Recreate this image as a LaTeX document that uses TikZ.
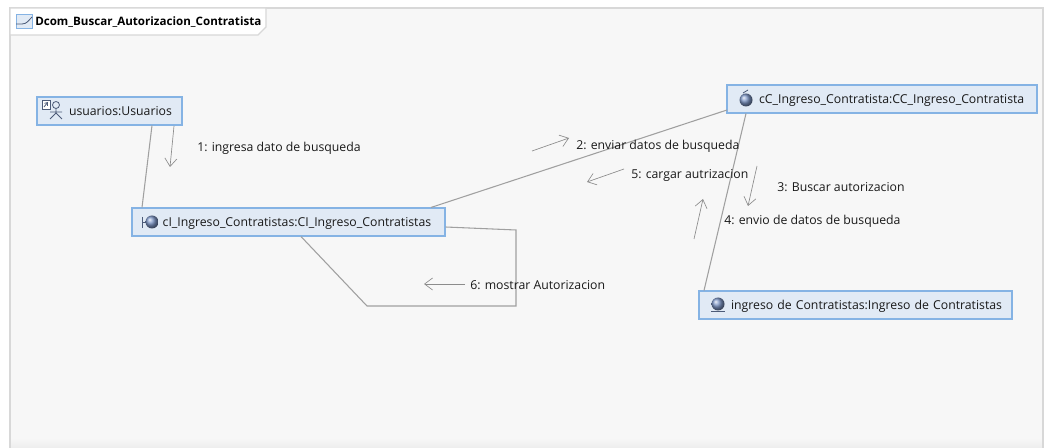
\documentclass[tikz,border=0pt]{standalone}
\usepackage{fontspec}
\setmainfont{Open Sans}
\usepackage{xcolor}
\definecolor{boxfill}{HTML}{E1EAF5}
\definecolor{boxline}{HTML}{85B3E4}
\definecolor{canvas}{HTML}{F7F7F7}
\definecolor{frameline}{HTML}{D8D8D8}
\definecolor{linkgray}{HTML}{A0A0A0}
\definecolor{iconblue}{HTML}{7F98C8}
\usetikzlibrary{arrows.meta}

\tikzset{
  objbox/.style={draw=boxline, line width=0.8pt, fill=boxfill, inner sep=0pt, minimum height=21pt,
    text width=#1, text height=7pt, text depth=0pt, align=left, font=\fontsize{9.2}{11}\selectfont, text=black!90},
  assoc/.style={draw=linkgray, line width=0.8pt},
  msg/.style={draw=gray!90, line width=0.5pt, -{Straight Barb[length=6pt,width=9pt]}},
  msglabel/.style={anchor=west, inner sep=0pt, font=\fontsize{9.2}{11}\selectfont, text=black!90},
  iconline/.style={draw=iconblue!60!black, line width=0.6pt}
}

\begin{document}
\begin{tikzpicture}[x=0.75pt, y=-0.75pt]
    \useasboundingbox (0,0) rectangle (1045,448);

    % Frame and title tab
    \fill[canvas] (10,8) rectangle (1043,448);
    \shade[top color=canvas, bottom color=black!7] (10,438) rectangle (1043,448);
    \draw[frameline, line width=0.8pt] (10,448) -- (10,8) -- (1043,8) -- (1043,448);
    \draw[frameline, fill=white, line width=0.8pt] (10,8) -- (266,8) -- (266,27) -- (258,35) -- (10,35) -- cycle;
    \node[anchor=west, inner sep=0pt, font=\fontsize{8.7}{10}\selectfont\bfseries] (title) at (35,22.5) {Dcom\_Buscar\_Autorizacion\_Contratista};
    \draw[boxline, fill=boxfill, line width=0.7pt] (16,14) rectangle (32,28);
    \draw[iconline] (16,24) -- (22,24) to[out=0, in=225] (32,17);

    % Objects
    \node[objbox=108.75pt] (usuarios) at (109.5,111) {\hspace*{24pt}usuarios:Usuarios};
    \node[objbox=234.75pt] (clingreso) at (288.5,222) {\hspace*{23pt}cI\_Ingreso\_Contratistas:CI\_Ingreso\_Contratistas};
    \node[objbox=232.5pt] (ccingreso) at (882,99) {\hspace*{24pt}cC\_Ingreso\_Contratista:CC\_Ingreso\_Contratista};
    \node[objbox=234.75pt] (ingreso) at (855.5,305) {\hspace*{24pt}ingreso de Contratistas:Ingreso de Contratistas};

    % Icons
    \draw[iconline, fill=white] (42,100) rectangle (50,109);
    \draw[iconline, ->, >={Straight Barb[length=2pt,width=3pt]}] (44,107) -- (48,102);
    \draw[iconline] (56,105) circle (3.5);
    \draw[iconline] (56,108.5) -- (56,113) (50,112) -- (62,112) (50,119) -- (56,113) -- (62,119);
    \draw[iconline] (142,217) -- (142,228) (142,222) -- (146,222);
    \shade[ball color=iconblue] (152,222) circle (6.5);
    \shade[ball color=iconblue] (746,100) circle (6.5);
    \draw[iconline] (743,93) -- (748,90);
    \shade[ball color=iconblue] (718,304) circle (6.5);
    \draw[iconline] (711,311) -- (725,311);

    % Links
    \draw[assoc] (152,0 |- usuarios.south) -- (142,0 |- clingreso.north);
    \draw[assoc] (431,0 |- clingreso.north) -- (727,110);
    \draw[assoc] (746,0 |- ccingreso.south) -- (704,0 |- ingreso.north);
    \draw[assoc] (clingreso.east |- 0,227) -- (516,230) -- (516,306) -- (367,306) -- (301,0 |- clingreso.south);

    % Message arrows
    \coordinate (m1a) at (174,126);
    \coordinate (m1b) at (170,167);
    \coordinate (m2a) at (532,151);
    \coordinate (m2b) at (569,138);
    \coordinate (m3a) at (757,166);
    \coordinate (m3b) at (748,206);
    \coordinate (m4a) at (694,239);
    \coordinate (m4b) at (703,199);
    \coordinate (m5a) at (624,169);
    \coordinate (m5b) at (587,182);
    \coordinate (m6a) at (465,284);
    \coordinate (m6b) at (424,284);
    \foreach \n in {1,...,6}
      \draw[msg] (m\n a) -- (m\n b);

    % Message labels
    \node[msglabel] (l1) at (197,148) {1: ingresa dato de busqueda};
    \node[msglabel] (l2) at (576,146) {2: enviar datos de busqueda};
    \node[msglabel] (l3) at (777,187.5) {3: Buscar autorizacion};
    \node[msglabel] (l4) at (724,221.5) {4: envio de datos de busqueda};
    \node[msglabel] (l5) at (631,175.5) {5: cargar autrizacion};
    \node[msglabel] (l6) at (470,285.5) {6: mostrar Autorizacion};
\end{tikzpicture}
\end{document}
